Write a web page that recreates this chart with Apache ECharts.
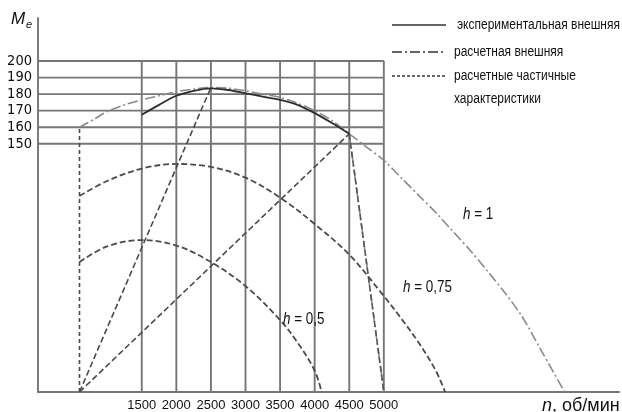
<!DOCTYPE html>
<html>
<head>
<meta charset="utf-8">
<script src="https://cdn.jsdelivr.net/npm/echarts@6/dist/echarts.min.js"></script>
<style>html,body{margin:0;padding:0;background:#fff}#c{width:622px;height:412px}</style>
</head>
<body>
<div id="c"></div>
<script>
// ---- data (rpm, Me) ----
const rpmTicks = [1500, 2000, 2500, 3000, 3500, 4000, 4500, 5000];
const torqueTicks = [150, 160, 170, 180, 190, 200];

const expRpm = [1500, 1750, 2000, 2250, 2500, 2750, 3000, 3250, 3500, 3750, 4000, 4250, 4500];
const expMe  = [167.5, 173.5, 179, 182, 183.5, 182.5, 180.5, 178.5, 176.5, 173.5, 168.5, 162.5, 156];

const extRpm = [600, 800, 1000, 1250, 1500, 1750, 2000, 2250, 2500, 2750, 3000, 3250, 3500, 3750, 4000, 4250, 4500, 4750, 5000, 5250, 5500, 5750, 6000, 6250, 6500, 6750, 7000, 7250, 7613];
const extMe  = [160, 164.5, 169.5, 173.5, 176.5, 179, 181.5, 183, 184, 183.5, 182, 180, 178, 174.5, 170, 164, 156, 148, 140, 129.5, 119, 108.5, 97, 85.5, 73, 60, 45.5, 27, 0];

const govRpm = [4500, 5000];
const govMe  = [156, 0];

const h075Rpm = [600, 1000, 1500, 2000, 2500, 3000, 3500, 4000, 4500, 5000, 5250, 5500, 5750, 5886];
const h075Me  = [118.5, 127.5, 135, 137.8, 136, 129.5, 117.5, 101.5, 83, 58, 44.5, 30, 13, 0];

const h05Rpm = [600, 1000, 1500, 2000, 2500, 3000, 3500, 3750, 4000, 4100];
const h05Me  = [78.5, 88, 91.8, 88.5, 78.5, 64, 43.5, 30, 13, 0];

const idleRpm = [600, 600];
const idleMe  = [0, 160];
const ray1Rpm = [600, 2500];
const ray1Me  = [0, 184];
const ray2Rpm = [600, 4500];
const ray2Me  = [0, 156];

const legendTexts = ['экспериментальная внешняя', 'расчетная внешняя', 'расчетные частичные', 'характеристики'];
const hLabels = ['h = 1', 'h = 0,75', 'h = 0,5'];
// ------------------------

const zip = (a, b) => a.map((v, i) => [v, b[i]]);
const REG = '"Liberation Sans", Arial, sans-serif';
const COND = '"DejaVu Sans Condensed", "Liberation Sans", sans-serif';
const GRID = '#767676';
const DASHDOT = [10, 3, 2, 3];
const DASH = [6, 3];

// condensed look: measure text and squeeze horizontally
const ctx = document.createElement('canvas').getContext('2d');
function widthOf(txt, font) { ctx.font = font; return ctx.measureText(txt).width; }
const LEG_FONT = '15.5px ' + REG;
const legScale = 163 / widthOf(legendTexts[0], LEG_FONT);
const H_FONT = '16px ' + REG;
const hScale = 49 / widthOf(hLabels[1], H_FONT);

const series = [];
torqueTicks.forEach(v => series.push({
  type: 'line', data: [[0, v], [rpmTicks[rpmTicks.length - 1], v]], symbol: 'none', silent: true, z: 1,
  lineStyle: { color: GRID, width: 1.9 }
}));
rpmTicks.forEach(v => series.push({
  type: 'line', data: [[v, 0], [v, torqueTicks[torqueTicks.length - 1]]], symbol: 'none', silent: true, z: 1,
  lineStyle: { color: GRID, width: 1.9 }
}));

function curve(x, y, color, width, type, smooth) {
  series.push({ type: 'line', data: zip(x, y), symbol: 'none', smooth: smooth || false, z: 3,
    lineStyle: { color: color, width: width, type: type } });
}
curve(extRpm, extMe, '#8a8a8a', 1.6, DASHDOT, 0.3);
curve(govRpm, govMe, '#8a8a8a', 1.6, DASHDOT);
curve(govRpm, govMe, '#555', 1.6, DASH);
curve(h075Rpm, h075Me, '#4a4a4a', 1.8, DASH, 0.35);
curve(h05Rpm, h05Me, '#4a4a4a', 1.8, DASH, 0.35);
curve(idleRpm, idleMe, '#4a4a4a', 1.6, [4, 3]);
curve(ray1Rpm, ray1Me, '#4a4a4a', 1.6, DASH);
curve(ray2Rpm, ray2Me, '#4a4a4a', 1.6, DASH);
curve(expRpm, expMe, '#2e2e2e', 1.8, 'solid', 0.3);

function hText(txt, x, y) {
  const parts = txt.split(' ');
  return { type: 'text', z: 10, x: x, y: y, scaleX: hScale,
    style: { text: '{i|' + parts[0] + '} ' + parts.slice(1).join(' '), x: 0, y: 0,
      font: H_FONT, fill: '#111', verticalAlign: 'middle',
      rich: { i: { fontStyle: 'italic', fontSize: 16, fontFamily: REG, fill: '#111' } } } };
}
function legText(txt, x, y) {
  return { type: 'text', x: x, y: y, scaleX: legScale,
    style: { text: txt, x: 0, y: 0, font: LEG_FONT, fill: '#111', verticalAlign: 'middle' } };
}

const graphic = [
  { type: 'line', shape: { x1: 392, y1: 25, x2: 446, y2: 25 }, style: { stroke: '#333', lineWidth: 1.6 } },
  { type: 'line', shape: { x1: 392, y1: 52, x2: 446, y2: 52 }, style: { stroke: '#333', lineWidth: 1.6, lineDash: DASHDOT } },
  { type: 'line', shape: { x1: 392, y1: 76, x2: 446, y2: 76 }, style: { stroke: '#333', lineWidth: 1.4, lineDash: [3, 2] } },
  legText(legendTexts[0], 457, 25),
  legText(legendTexts[1], 454, 52),
  legText(legendTexts[2], 454, 76),
  legText(legendTexts[3], 454, 99),
  hText(hLabels[0], 463, 215),
  hText(hLabels[1], 403, 288),
  hText(hLabels[2], 283, 320),
  { type: 'text', style: { text: 'M', x: 11, y: 19, font: 'italic 17px ' + REG, fill: '#111', verticalAlign: 'middle' } },
  { type: 'text', style: { text: 'e', x: 26, y: 25, font: 'italic 11px ' + REG, fill: '#111', verticalAlign: 'middle' } },
  { type: 'text', style: { text: '{i|n}, об/мин', x: 542, y: 406, font: '18px ' + REG, fill: '#111', verticalAlign: 'middle',
    rich: { i: { fontStyle: 'italic', fontSize: 18, fontFamily: REG, fill: '#111' } } } }
];

const chart = echarts.init(document.getElementById('c'), null, { renderer: 'canvas' });
chart.setOption({
  animation: false,
  grid: { left: 38, right: 3, top: 18, bottom: 20, containLabel: false },
  xAxis: {
    type: 'value', min: 0, max: 8400, interval: 500,
    axisLine: { show: true, onZero: false, lineStyle: { color: GRID, width: 2 } },
    axisTick: { show: false }, splitLine: { show: false },
    axisLabel: { show: true, showMaxLabel: false, margin: 7, color: '#111', fontFamily: REG, fontSize: 13,
      formatter: v => rpmTicks.indexOf(v) >= 0 ? String(v) : '' }
  },
  yAxis: {
    type: 'value', min: 0, max: 226, interval: 10,
    axisLine: { show: true, lineStyle: { color: GRID, width: 1.9 } },
    axisTick: { show: false }, splitLine: { show: false },
    axisLabel: { show: true, showMaxLabel: false, margin: 6, color: '#111', fontFamily: COND, fontSize: 14.5,
      formatter: v => torqueTicks.indexOf(v) >= 0 ? String(v) : '' }
  },
  series: series,
  graphic: graphic
});
</script>
</body>
</html>
